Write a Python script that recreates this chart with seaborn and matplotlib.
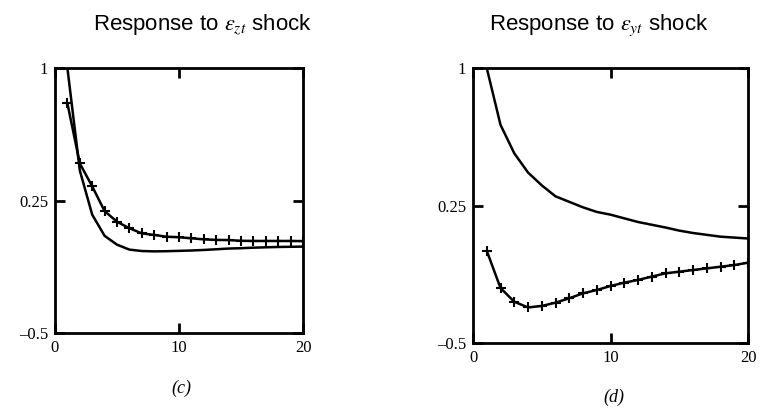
import matplotlib
matplotlib.use("Agg")
import matplotlib.pyplot as plt
import seaborn as sns
import pandas as pd

sns.set_theme(style="white")
plt.rcParams["font.family"] = ["Liberation Sans", "DejaVu Sans"]
plt.rcParams["mathtext.fontset"] = "stix"
plt.rcParams["text.color"] = "black"
plt.rcParams["xtick.color"] = "black"
plt.rcParams["ytick.color"] = "black"

# ---- data ----
periods = list(range(1, 21))

# panel (c): response to eps_z shock
c_plain = [1.0, 0.42, 0.17, 0.05, 0.0, -0.028, -0.036, -0.038, -0.037, -0.035,
           -0.033, -0.030, -0.026, -0.022, -0.020, -0.017, -0.015, -0.013, -0.012, -0.011]
c_marked = [0.80, 0.46, 0.33, 0.19, 0.13, 0.093, 0.064, 0.055, 0.045, 0.042,
            0.036, 0.030, 0.027, 0.026, 0.022, 0.021, 0.021, 0.021, 0.021, 0.020]

# panel (d): response to eps_y shock
d_plain = [1.0, 0.69, 0.535, 0.43, 0.36, 0.30, 0.27, 0.24, 0.215, 0.20,
           0.18, 0.16, 0.145, 0.13, 0.113, 0.10, 0.09, 0.08, 0.075, 0.07]
d_marked = [0.003, -0.20, -0.275, -0.306, -0.298, -0.28, -0.256, -0.229, -0.211, -0.189,
            -0.171, -0.156, -0.138, -0.12, -0.111, -0.102, -0.093, -0.084, -0.075, -0.062]

titles = [r"Response to $\varepsilon_{zt}$ shock", r"Response to $\varepsilon_{yt}$ shock"]
captions = ["(c)", "(d)"]
xticks = [0, 10, 20]
xticklabels = ["0", "10", "20"]
yticks = [-0.5, 0.25, 1.0]
yticklabels = ["\u20130.5", "0.25", "1"]

fig = plt.figure(figsize=(7.65, 4.09), dpi=100)
ax_c = fig.add_axes([55 / 765, 1 - 333 / 409, 248 / 765, 265 / 409])
ax_d = fig.add_axes([473 / 765, 1 - 343 / 409, 275 / 765, 275 / 409])

panels = [(ax_c, c_plain, c_marked), (ax_d, d_plain, d_marked)]
serif = ["Liberation Serif", "DejaVu Serif"]

for i, (ax, plain, marked) in enumerate(panels):
    df = pd.DataFrame({"t": periods, "plain": plain, "marked": marked})
    sns.lineplot(data=df, x="t", y="plain", ax=ax, color="black", lw=1.8)
    sns.lineplot(data=df, x="t", y="marked", ax=ax, color="black", lw=1.8,
                 marker="+", markersize=7.5, markeredgewidth=1.5, markeredgecolor="black")
    ax.set_xlim(0, 20)
    ax.set_ylim(-0.5, 1.0)
    ax.set_xlabel("")
    ax.set_ylabel("")
    ax.set_xticks(xticks)
    ax.set_xticklabels(xticklabels, fontfamily=serif, fontsize=12)
    ax.set_yticks(yticks)
    ax.set_yticklabels(yticklabels, fontfamily=serif, fontsize=12)
    ax.tick_params(direction="in", length=7, width=2, color="black",
                   top=True, right=True, bottom=True, left=True, pad=5)
    for s in ax.spines.values():
        s.set_visible(True)
        s.set_color("black")
        s.set_linewidth(2)
    ax.grid(False)

fig.text(202 / 765, 1 - 30 / 409, titles[0], ha="center", va="baseline", fontsize=16)
fig.text(599 / 765, 1 - 30 / 409, titles[1], ha="center", va="baseline", fontsize=16)
fig.text(181 / 765, 1 - 388 / 409, captions[0], ha="center", va="center",
         fontsize=13, fontstyle="italic", fontfamily=serif)
fig.text(614 / 765, 1 - 397 / 409, captions[1], ha="center", va="center",
         fontsize=13, fontstyle="italic", fontfamily=serif)

fig.savefig("out.png", dpi=100)
